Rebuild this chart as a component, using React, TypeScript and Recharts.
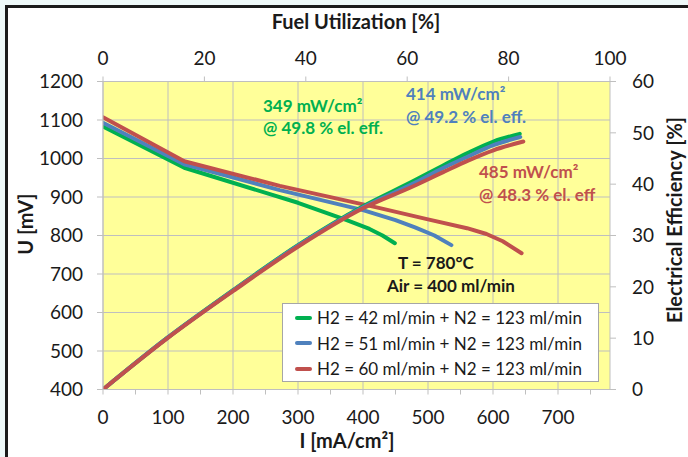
import React from 'react';
import { LineChart, Line, XAxis, YAxis, CartesianGrid, Legend } from 'recharts';

// ---- tick values ----
const currentTicks = [0, 100, 200, 300, 400, 500, 600, 700];
const currentMinorTicks = [0, 50, 100, 150, 200, 250, 300, 350, 400, 450, 500, 550, 600, 650, 700, 750];
const fuelTicks = [0, 20, 40, 60, 80, 100];
const voltageTicks = [400, 500, 600, 700, 800, 900, 1000, 1100, 1200];
const effTicks = [0, 10, 20, 30, 40, 50, 60];

// ---- series meta ----
const seriesNames = [
  'H2 = 42 ml/min + N2 = 123 ml/min',
  'H2 = 51 ml/min + N2 = 123 ml/min',
  'H2 = 60 ml/min + N2 = 123 ml/min',
];
const seriesColors = ['#00b050', '#4f81bd', '#c0504d'];

// ---- U-I curves (I in mA/cm², U in mV) ----
const currentGreen = [0, 125, 300, 375, 410, 430, 449];
const voltageGreen = [1083, 976, 885, 840, 817, 800, 780];
const currentBlue = [0, 125, 272, 400, 450, 480, 510, 536];
const voltageBlue = [1093, 985, 918, 866, 840, 821, 800, 775];
const currentRed = [0, 125, 272, 426, 500, 560, 590, 615, 644];
const voltageRed = [1107, 993, 929, 871, 842, 819, 804, 785, 754];

// ---- efficiency vs fuel utilization (%) ----
const fuelGreen = [0, 12.6, 25.7, 38.9, 51.3, 61.2, 67, 72, 77, 82.2];
const effGreen = [0, 10, 19.4, 28.4, 35.7, 40.6, 43.6, 46.1, 48.3, 49.8];
const fuelBlue = [0, 12.6, 25.7, 38.9, 51.3, 61.2, 67, 72, 77, 82.3];
const effBlue = [0, 10, 19.3, 28.3, 35.5, 40.1, 43.1, 45.4, 47.6, 49.2];
const fuelRed = [0, 12.6, 25.7, 38.9, 51.3, 61.2, 67, 72, 77, 82.9];
const effRed = [0, 9.9, 19.2, 28.1, 35.3, 39.6, 42.3, 44.6, 46.6, 48.3];

const toPoints = (xs: number[], ys: number[]) => xs.map((x, i) => ({ x, y: ys[i] }));

const uiData = [
  toPoints(currentGreen, voltageGreen),
  toPoints(currentBlue, voltageBlue),
  toPoints(currentRed, voltageRed),
];
const effData = [
  toPoints(fuelGreen, effGreen),
  toPoints(fuelBlue, effBlue),
  toPoints(fuelRed, effRed),
];

const FONT = 'Lato, "Open Sans", sans-serif';
const AXIS_GRAY = '#bfbfbf';
const TEXT = '#1a1a1a';

const LegendBox = () => (
  <div
    style={{
      background: '#fff',
      border: '1px solid #a6a6a6',
      width: 317,
      height: 79,
      boxSizing: 'border-box',
      padding: '1px 0 0 12px',
      fontFamily: FONT,
      fontSize: 17,
      color: TEXT,
    }}
  >
    {seriesNames.map((n, i) => (
      <div key={i} style={{ display: 'flex', alignItems: 'center', height: 25.5, whiteSpace: 'nowrap' }}>
        <span
          style={{
            display: 'inline-block',
            width: 17,
            height: 4,
            borderRadius: 2,
            background: seriesColors[i],
            marginRight: 5,
          }}
        />
        <span>{n}</span>
      </div>
    ))}
  </div>
);

const MajorOnlyTick = (props: any) => {
  const { x, y, payload } = props;
  if (payload.value % 100 !== 0) return <g />;
  return (
    <text x={x} y={y} dy="0.71em" textAnchor="middle" fill={TEXT} fontSize={19} fontFamily={FONT}>
      {payload.value}
    </text>
  );
};

export default function App() {
  const tickStyle = { fill: TEXT, fontSize: 19, fontFamily: FONT };
  return (
    <div
      style={{
        position: 'absolute',
        left: 0,
        top: 0,
        width: 688,
        height: 457,
        overflow: 'hidden',
        background: '#eef9f9',
        fontFamily: FONT,
      }}
    >
      <div
        style={{
          position: 'absolute',
          left: 5,
          top: 5,
          width: 720,
          height: 520,
          border: '3px solid #1b1b1b',
          background: '#ffffff',
        }}
      />
      <div style={{ position: 'absolute', left: 0, top: 0 }}>
        <LineChart width={688} height={457} margin={{ top: 0, right: 0, left: 33, bottom: 0 }}>
          <CartesianGrid
            xAxisId="i"
            yAxisId="u"
            stroke={AXIS_GRAY}
            fill="#ffff99"
            fillOpacity={1}
            verticalValues={currentTicks}
          />
          <XAxis
            xAxisId="fu"
            orientation="top"
            type="number"
            dataKey="x"
            domain={[0, 100]}
            ticks={fuelTicks}
            interval={0}
            allowDataOverflow
            height={81.5}
            stroke={AXIS_GRAY}
            tickSize={5}
            tickMargin={11.5}
            tick={tickStyle}
          />
          <XAxis
            xAxisId="i"
            orientation="bottom"
            type="number"
            dataKey="x"
            domain={[0, 780]}
            ticks={currentMinorTicks}
            interval={0}
            allowDataOverflow
            height={67.5}
            stroke={AXIS_GRAY}
            tickSize={5}
            tickMargin={16}
            tick={<MajorOnlyTick />}
          />
          <YAxis
            yAxisId="u"
            orientation="left"
            type="number"
            domain={[400, 1200]}
            ticks={voltageTicks}
            interval={0}
            allowDataOverflow
            width={70}
            stroke={AXIS_GRAY}
            tickSize={6}
            tickMargin={14}
            tick={tickStyle}
          />
          <YAxis
            yAxisId="eff"
            orientation="right"
            type="number"
            domain={[0, 60]}
            ticks={effTicks}
            interval={0}
            allowDataOverflow
            width={78}
            stroke={AXIS_GRAY}
            tickSize={6}
            tickMargin={16}
            tick={tickStyle}
          />
          {uiData.map((d, i) => (
            <Line
              key={'u' + i}
              data={d}
              xAxisId="i"
              yAxisId="u"
              dataKey="y"
              name={seriesNames[i]}
              type="linear"
              stroke={seriesColors[i]}
              strokeWidth={4}
              strokeLinecap="round"
              strokeLinejoin="round"
              dot={false}
              activeDot={false}
              isAnimationActive={false}
            />
          ))}
          {effData.map((d, i) => (
            <Line
              key={'e' + i}
              data={d}
              xAxisId="fu"
              yAxisId="eff"
              dataKey="y"
              name={seriesNames[i] + ' eff'}
              legendType="none"
              type="monotone"
              stroke={seriesColors[i]}
              strokeWidth={4}
              strokeLinecap="round"
              strokeLinejoin="round"
              dot={false}
              activeDot={false}
              isAnimationActive={false}
            />
          ))}
          <Legend
            layout="vertical"
            align="center"
            verticalAlign="middle"
            content={() => <LegendBox />}
            wrapperStyle={{ left: 282, top: 303, width: 317, height: 79 }}
          />
        </LineChart>
      </div>
      <svg
        width={688}
        height={457}
        style={{ position: 'absolute', left: 0, top: 0, pointerEvents: 'none' }}
        fontFamily={FONT}
      >
        <text x={356} y={29} textAnchor="middle" fontSize={20} fontWeight={700} fill={TEXT}>
          Fuel Utilization [%]
        </text>
        <text x={347} y={448} textAnchor="middle" fontSize={20} fontWeight={700} fill={TEXT}>
          I [mA/cm²]
        </text>
        <text transform="translate(33,224) rotate(-90)" textAnchor="middle" fontSize={20} fontWeight={700} fill={TEXT}>
          U [mV]
        </text>
        <text transform="translate(682,220) rotate(-90)" textAnchor="middle" fontSize={20} fontWeight={700} fill={TEXT}>
          Electrical Efficiency [%]
        </text>

        <g fontSize={17} fontWeight={700}>
          <text x={263} y={111.5} fill={seriesColors[0]}>349 mW/cm²</text>
          <text x={263} y={133.5} fill={seriesColors[0]}>@ 49.8 % el. eff.</text>
          <text x={406} y={100} fill={seriesColors[1]}>414 mW/cm²</text>
          <text x={406} y={122.5} fill={seriesColors[1]}>@ 49.2 % el. eff.</text>
          <text x={479} y={178} fill={seriesColors[2]}>485 mW/cm²</text>
          <text x={479} y={201} fill={seriesColors[2]}>@ 48.3 % el. eff</text>
          <text x={398} y={269} fill={TEXT}>T = 780°C</text>
          <text x={387} y={292} fill={TEXT}>Air = 400 ml/min</text>
        </g>
      </svg>
    </div>
  );
}
